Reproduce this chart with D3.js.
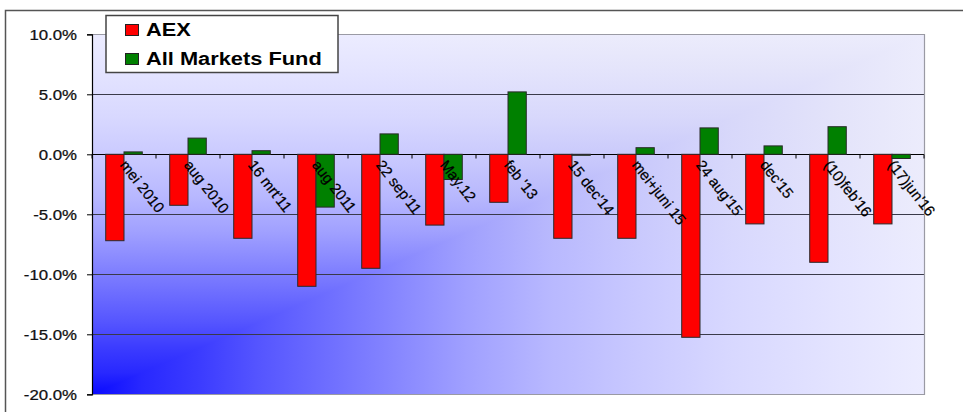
<!DOCTYPE html>
<html><head><meta charset="utf-8">
<script src="https://cdn.jsdelivr.net/npm/d3@7"></script>
<style>html,body{margin:0;padding:0;background:#fff;}svg{display:block;}</style>
</head><body>
<script>
const categories = ["mei 2010","aug 2010","16 mrt'11","aug 2011","22 sep'11","May.12","feb '13","15 dec'14","mei+juni 15","24 aug'15","dec'15","(10)feb'16","(17)jun'16"];
const aexValues = [-7.2,-4.25,-7.0,-11.0,-9.5,-5.9,-4.0,-7.0,-7.0,-15.25,-5.8,-9.0,-5.8];
const fundValues = [0.2,1.35,0.3,-4.4,1.7,-2.1,5.2,-0.05,0.55,2.2,0.7,2.3,-0.35];
const seriesNames = ["AEX","All Markets Fund"];
const seriesColors = ["#ff0000","#008000"];
const yTicks = [10,5,0,-5,-10,-15,-20];

const W = 963, H = 412;
const svg = d3.select("body").append("svg").attr("width", W).attr("height", H);
const font = "'Liberation Sans', Arial, sans-serif";

// outer frame
svg.append("path").attr("d", `M5.5,${H} L5.5,10.5 L${W},10.5`).attr("fill","none").attr("stroke","#555").attr("stroke-width",1.5);

const plot = {left:92, right:924, top:34.3, bottom:394.3};
const x = d3.scaleBand().domain(categories).range([plot.left, plot.right]).paddingInner(0).paddingOuter(0);
const y = d3.scaleLinear().domain([-20,10]).range([plot.bottom, plot.top]);
const sub = d3.scaleBand().domain([0,1]).range([0, x.bandwidth()]).paddingInner(0).paddingOuter(0.75);

// "from corner" gradient background: lighten-blend of a horizontal and a vertical gradient
const defs = svg.append("defs");
const stops = [[0,"#0a0aff"],[0.06,"#2828ff"],[0.13,"#3c3cff"],[0.2,"#5555ff"],[0.25,"#6464ff"],[0.35,"#8282ff"],[0.45,"#a0a0fd"],[0.55,"#b8b8fc"],[0.65,"#c8c8fb"],[0.77,"#d8d8fa"],[0.9,"#e4e4fa"],[1,"#ececfc"]];
const gh = defs.append("linearGradient").attr("id","gh").attr("x1","0").attr("y1","0").attr("x2","1").attr("y2","0");
const gv = defs.append("linearGradient").attr("id","gv").attr("x1","0").attr("y1","1").attr("x2","0").attr("y2","0");
stops.forEach(([o,c])=>{gh.append("stop").attr("offset",o).attr("stop-color",c); gv.append("stop").attr("offset",o).attr("stop-color",c);});
const bgG = svg.append("g").style("isolation","isolate");
bgG.append("rect").attr("x",plot.left).attr("y",plot.top).attr("width",plot.right-plot.left).attr("height",plot.bottom-plot.top).attr("fill","url(#gv)");
bgG.append("rect").attr("x",plot.left).attr("y",plot.top).attr("width",plot.right-plot.left).attr("height",plot.bottom-plot.top).attr("fill","url(#gh)").style("mix-blend-mode","lighten");

// gridlines
svg.append("g").selectAll("line").data(yTicks.filter(t=>t!==10 && t!==-20)).join("line")
  .attr("x1",plot.left).attr("x2",plot.right).attr("y1",d=>Math.round(y(d))+0.5).attr("y2",d=>Math.round(y(d))+0.5)
  .attr("stroke",d=>d===0?"#000":"#3a3a4a").attr("stroke-width",1.2);

// plot border (top, right, bottom)
svg.append("path").attr("d",`M${plot.left},${Math.round(plot.top)+0.5} L${plot.right+0.5},${Math.round(plot.top)+0.5} L${plot.right+0.5},${Math.round(plot.bottom)+0.5} L${plot.left},${Math.round(plot.bottom)+0.5}`)
  .attr("fill","none").attr("stroke","#9a9aa4").attr("stroke-width",1.2);

// bars
const data = categories.map((c,i)=>({c, vals:[aexValues[i], fundValues[i]]}));
const grp = svg.append("g").selectAll("g").data(data).join("g").attr("transform",d=>`translate(${x(d.c)},0)`);
grp.selectAll("rect").data(d=>d.vals.map((v,k)=>({v,k}))).join("rect")
  .attr("x",d=>sub(d.k)).attr("width",sub.bandwidth())
  .attr("y",d=>Math.min(y(d.v),y(0))).attr("height",d=>Math.max(1,Math.abs(y(d.v)-y(0))))
  .attr("fill",d=>seriesColors[d.k]).attr("stroke","#2a2a2a").attr("stroke-width",1);

// y axis
const yAxis = d3.axisLeft(y).tickValues(yTicks).tickSize(5).tickFormat(d=>d.toFixed(1)+"%");
const ya = svg.append("g").attr("transform",`translate(${plot.left},0)`).call(yAxis);
ya.select(".domain").attr("stroke","#000").attr("stroke-width",1.2);
ya.selectAll(".tick line").attr("stroke","#000");
ya.selectAll(".tick text").attr("font-family",font).attr("font-size",14).attr("fill","#111")
  .attr("stroke","#111").attr("stroke-width",0.25)
  .attr("x",null).attr("dy",null).attr("text-anchor","end")
  .attr("transform","translate(-15,5) scale(1.2,1)");

// x axis at zero
const xAxis = d3.axisBottom(x).tickSize(0).tickFormat("");
const xa = svg.append("g").attr("transform",`translate(0,${Math.round(y(0))+0.5})`).call(xAxis);
xa.select(".domain").remove();
xa.selectAll(".bt").data(d3.range(categories.length+1)).join("line").attr("class","bt")
  .attr("x1",i=>plot.left+i*x.step()).attr("x2",i=>plot.left+i*x.step()).attr("y1",0).attr("y2",4)
  .attr("stroke","#000");

// category labels
svg.append("g").selectAll("text").data(categories).join("text")
  .attr("transform",d=>`translate(${x(d)+x.bandwidth()/2+4},${y(0)+4}) rotate(52)`)
  .attr("dy","0.75em")
  .attr("font-family",font).attr("font-size",15).attr("fill","#000")
  .attr("stroke","#000").attr("stroke-width",0.2).text(d=>d);

// legend
const lg = svg.append("g");
lg.append("rect").attr("x",106).attr("y",15.5).attr("width",232).attr("height",57).attr("fill","#fff").attr("stroke","#444").attr("stroke-width",1.5);
seriesNames.forEach((n,i)=>{
  const yy = 24.5 + i*29;
  lg.append("rect").attr("x",125.5).attr("y",yy).attr("width",13).attr("height",11).attr("fill",seriesColors[i]).attr("stroke","#222").attr("stroke-width",1);
  lg.append("text").attr("transform",`translate(146,${yy+11.5}) scale(1.18,1)`)
    .attr("font-family",font).attr("font-weight","bold").attr("font-size",18.5).attr("fill","#000").text(n);
});
</script>
</body></html>
